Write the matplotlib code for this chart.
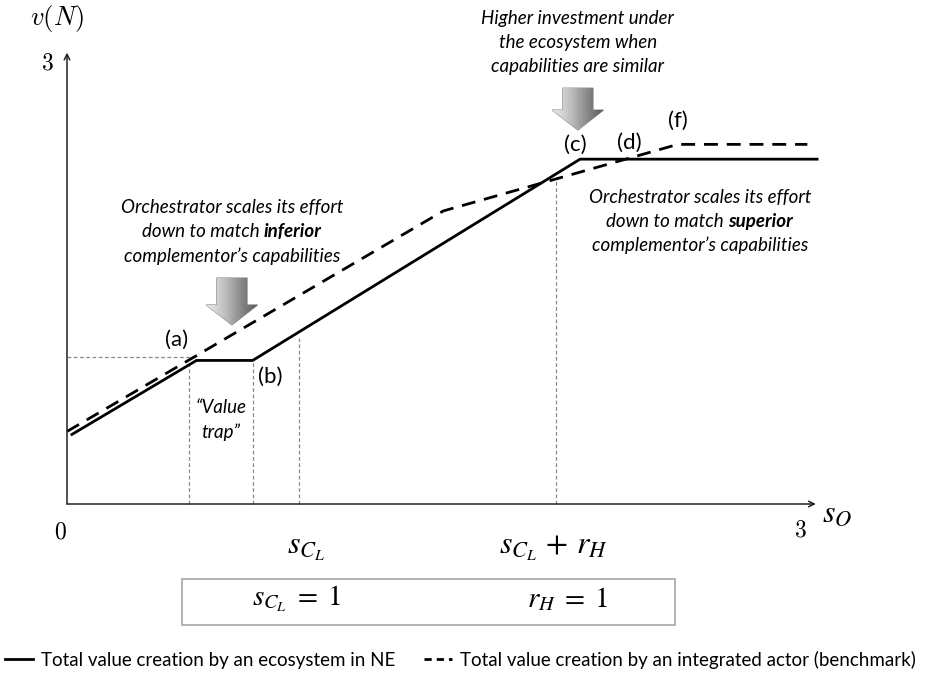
import numpy as np
import matplotlib
matplotlib.use("Agg")
import matplotlib.pyplot as plt
import matplotlib.patches as mpatches
from matplotlib.lines import Line2D

plt.rcParams['font.family'] = ['Lato', 'DejaVu Sans']

# piecewise-linear value curves (x = s_O, y = v(N))
eco_x = [0.02, 0.53, 0.76, 2.10, 3.07]
eco_y = [0.47, 0.97, 0.97, 2.33, 2.33]
int_x = [0.00, 1.54, 2.50, 3.03]
int_y = [0.49, 1.98, 2.43, 2.43]

# thin guide lines: (x, top)
guide_x = [0.50, 0.76, 0.95, 2.00]
guide_top = [0.97, 0.97, 1.12, 2.20]
guide_h = 0.99

point_labels = ['(a)', '(b)', '(c)', '(d)', '(f)']
point_x = [0.45, 0.83, 2.08, 2.30, 2.50]
point_y = [1.11, 0.86, 2.43, 2.44, 2.59]

fig = plt.figure(figsize=(9.4, 6.91), dpi=100)
ax = fig.add_axes([0, 0, 1, 1])
ax.set_xlim(-67 / 244.33, 873 / 244.33)
ax.set_ylim(-187 / 148, 504 / 148)
ax.axis('off')

# axes with arrow heads
ax.annotate('', xy=(3.065, 0), xytext=(0, 0),
            arrowprops=dict(arrowstyle='->', lw=1.1, color='#222222', shrinkA=0, shrinkB=0))
ax.annotate('', xy=(0, 3.05), xytext=(0, 0),
            arrowprops=dict(arrowstyle='->', lw=1.1, color='#222222', shrinkA=0, shrinkB=0))

for gx, gt in zip(guide_x, guide_top):
    ax.plot([gx, gx], [0, gt], color='#8a8a8a', lw=0.9, ls=(0, (3, 2)))
ax.plot([0, 0.53], [guide_h, guide_h], color='#8a8a8a', lw=0.9, ls=(0, (3, 2)))

ax.plot(eco_x, eco_y, color='black', lw=2.0, solid_joinstyle='miter')
ax.plot(int_x, int_y, color='black', lw=2.0, ls=(0, (5, 3.2)))

for lab, px, py in zip(point_labels, point_x, point_y):
    ax.text(px, py, lab, fontsize=16, ha='center', va='center')

ax.text(0.63, 0.65, '\u201cValue', fontsize=13.5, style='italic', ha='center', va='center')
ax.text(0.63, 0.487, 'trap\u201d', fontsize=13.5, style='italic', ha='center', va='center')

# axis labels
ax.text(-0.04, 3.28, r'$v(N)$', fontsize=19, ha='center', va='center', math_fontfamily='cm')
ax.text(-0.082, 2.98, r'$3$', fontsize=17, ha='center', va='center', math_fontfamily='cm')
ax.text(-0.029, -0.19, r'$0$', fontsize=17, ha='center', va='center', math_fontfamily='cm')
ax.text(3.0, -0.176, r'$3$', fontsize=17, ha='center', va='center', math_fontfamily='cm')
ax.text(3.15, -0.06, r'$s_O$', fontsize=23, ha='center', va='center', math_fontfamily='stix')
ax.text(0.98, -0.30, r'$s_{C_L}$', fontsize=23, ha='center', va='center', math_fontfamily='stix')
ax.text(1.99, -0.30, r'$s_{C_L}\,+\,r_H$', fontsize=23, ha='center', va='center',
        math_fontfamily='stix')

# parameter box
ax.add_patch(mpatches.Rectangle((0.471, -0.818), 2.017, 0.311, fill=False,
                                edgecolor='#a6a6a6', lw=1.2))
ax.text(0.94, -0.64, r'$s_{C_L}\;=\;1$', fontsize=21, ha='center', va='center',
        math_fontfamily='stix')
ax.text(2.05, -0.64, r'$r_H\;=\;1$', fontsize=21, ha='center', va='center',
        math_fontfamily='stix')


def rich_line(x, y, parts, size=13.5):
    # draw a centred line made of (text, weight) pieces
    renderer = fig.canvas.get_renderer()
    pieces = [ax.text(0, y, s, fontsize=size, style='italic', weight=w, va='center')
              for s, w in parts]
    widths = [p.get_window_extent(renderer).width for p in pieces]
    total = sum(widths)
    x0 = ax.transData.transform((x, y))[0] - total / 2
    for p, w in zip(pieces, widths):
        p.set_x(ax.transData.inverted().transform((x0, 0))[0])
        x0 += w


def note(x, y, lines, step=24 / 148):
    for i, parts in enumerate(lines):
        rich_line(x, y + step - i * step, parts)


note(0.675, 1.838, [[('Orchestrator scales its effort', 'normal')],
                    [('down to match ', 'normal'), ('inferior', 'bold')],
                    [('complementor\u2019s capabilities', 'normal')]])
note(2.09, 3.12, [[('Higher investment under', 'normal')],
                  [('the ecosystem when', 'normal')],
                  [('capabilities are similar', 'normal')]])
note(2.59, 1.91, [[('Orchestrator scales its effort', 'normal')],
                  [('down to match ', 'normal'), ('superior', 'bold')],
                  [('complementor\u2019s capabilities', 'normal')]])


def block_arrow(xc, ytop, ytip):
    bw, hw, hl = 0.062, 0.105, 0.135
    verts = [(xc - bw, ytop), (xc + bw, ytop), (xc + bw, ytip + hl), (xc + hw, ytip + hl),
             (xc, ytip), (xc - hw, ytip + hl), (xc - bw, ytip + hl)]
    poly = mpatches.Polygon(verts, closed=True, facecolor='none', edgecolor='#8a8a8a', lw=0.8)
    ax.add_patch(poly)
    grad = np.linspace(0, 1, 64).reshape(1, -1)
    im = ax.imshow(grad, cmap='Greys', vmin=-0.3, vmax=1.5, aspect='auto',
                   extent=(xc - hw, xc + hw, ytip, ytop), zorder=1)
    im.set_clip_path(poly)


block_arrow(0.675, 1.527, 1.21)
block_arrow(2.091, 2.81, 2.527)
ax.set_xlim(-67 / 244.33, 873 / 244.33)
ax.set_ylim(-187 / 148, 504 / 148)

handles = [Line2D([], [], color='black', lw=2.0),
           Line2D([], [], color='black', lw=2.0, ls=(0, (2.6, 1.8)))]
fig.legend(handles, ['Total value creation by an ecosystem in NE',
                     'Total value creation by an integrated actor (benchmark)'],
           loc='center left', bbox_to_anchor=(-0.013, 0.045), ncol=2, frameon=False,
           fontsize=13.5, handlelength=1.5, handletextpad=0.45, columnspacing=1.5)

fig.savefig('out.png', dpi=100)
